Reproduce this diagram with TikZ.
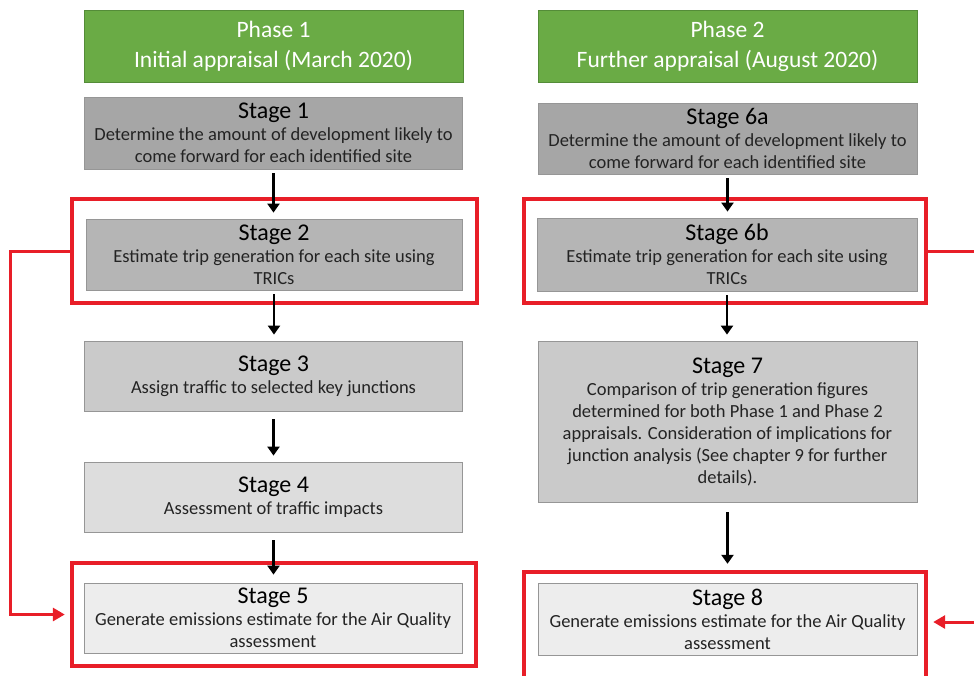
\documentclass[tikz,border=0pt]{standalone}
\usepackage{fontspec}
\setmainfont{Carlito}
\usepackage{tikz}
\usetikzlibrary{arrows.meta}
\definecolor{phgreen}{RGB}{106,171,69}
\definecolor{phframe}{RGB}{84,140,56}
\definecolor{stgA}{RGB}{166,166,166}
\definecolor{stgB}{RGB}{181,181,181}
\definecolor{stgC}{RGB}{202,202,202}
\definecolor{stgD}{RGB}{221,221,221}
\definecolor{stgE}{RGB}{237,237,237}
\definecolor{stgframe}{RGB}{150,150,150}
\definecolor{hlred}{RGB}{232,30,40}
\definecolor{txtdark}{RGB}{35,35,35}
\tikzset{
  phasebox/.style={rectangle, draw=phframe, fill=phgreen, text=white,
    minimum width=379pt, minimum height=72pt, align=center,
    font=\fontsize{23.5}{30}\selectfont, line width=0.8pt},
  stagebox/.style={rectangle, draw=stgframe, text=txtdark,
    minimum width=378pt, minimum height=71pt, align=center,
    font=\fontsize{18.5}{22}\selectfont, line width=0.8pt, inner sep=1pt},
  redframe/.style={rectangle, draw=hlred, line width=4.4pt, inner sep=0pt},
  arrow/.style={-{Triangle[length=9pt, width=12pt]}, line width=2.8pt,
    color=black, shorten <=4pt, shorten >=6pt},
  redarrow/.style={-{Triangle[length=12pt, width=13pt]}, line width=3pt,
    color=hlred, shorten >=5pt}
}
\newcommand{\stagehead}[1]{{\fontsize{24}{24}\selectfont\color{black}#1}}

\begin{document}
\begin{tikzpicture}[x=1pt, y=-1pt]
  \useasboundingbox (0,0) rectangle (974,675);
  \clip (0,0) rectangle (974,675);

  % Phase headers
  \node[phasebox] (ph1) at (273.5,46) {Phase 1\\Initial appraisal (March 2020)};
  \node[phasebox] (ph2) at (727.5,46) {Phase 2\\Further appraisal (August 2020)};

  % Red highlight frames
  \node[redframe, minimum width=405pt, minimum height=104pt] (r2) at (274.5,251) {};
  \node[redframe, minimum width=404pt, minimum height=103pt] (r5) at (274,614.5) {};
  \node[redframe, minimum width=402pt, minimum height=104pt] (r6b) at (725,251) {};
  \node[redframe, minimum width=402pt, minimum height=118pt] (r8) at (725,631) {};

  % Phase 1 stages
  \node[stagebox, fill=stgA, minimum height=72pt] (s1) at (273.5,133)
    {\stagehead{Stage 1}\\Determine the amount of development likely to\\come forward for each identified site};
  \node[stagebox, fill=stgB, minimum width=376pt] (s2) at (274,254.5)
    {\stagehead{Stage 2}\\Estimate trip generation for each site using\\TRICs};
  \node[stagebox, fill=stgC, minimum height=70pt] (s3) at (273.5,376)
    {\stagehead{Stage 3}\\Assign traffic to selected key junctions};
  \node[stagebox, fill=stgD, minimum height=70pt] (s4) at (273.5,497)
    {\stagehead{Stage 4}\\Assessment of traffic impacts};
  \node[stagebox, fill=stgE, minimum height=70pt] (s5) at (273,618)
    {\stagehead{Stage 5}\\Generate emissions estimate for the Air Quality\\assessment};

  % Phase 2 stages
  \node[stagebox, fill=stgA, minimum width=379pt] (s6a) at (727.5,138.5)
    {\stagehead{Stage 6a}\\Determine the amount of development likely to\\come forward for each identified site};
  \node[stagebox, fill=stgB, minimum width=380pt, minimum height=73pt] (s6b) at (727,254.5)
    {\stagehead{Stage 6b}\\Estimate trip generation for each site using\\TRICs};
  \node[stagebox, fill=stgC, minimum width=379pt, minimum height=161pt] (s7) at (727.5,421.5)
    {\stagehead{Stage 7}\\Comparison of trip generation figures\\determined for both Phase 1 and Phase 2\\appraisals. Consideration of implications for\\junction analysis (See chapter 9 for further\\details).};
  \node[stagebox, fill=stgE, minimum width=379pt, minimum height=72pt] (s8) at (727.5,619)
    {\stagehead{Stage 8}\\Generate emissions estimate for the Air Quality\\assessment};

  % Flow arrows
  \draw[arrow] (s1.south) -- (s1.south |- s2.north);
  \draw[arrow] (s2.south) -- (s2.south |- s3.north);
  \draw[arrow, shorten <=8pt] (s3.south) -- (s3.south |- s4.north);
  \draw[arrow, shorten <=8pt, shorten >=8pt] (s4.south) -- (s4.south |- s5.north);
  \draw[arrow] (s6a.south) -- (s6a.south |- s6b.north);
  \draw[arrow] (s6b.south) -- (s6b.south |- s7.north);
  \draw[arrow, shorten <=10pt] (s7.south) -- (s7.south |- r8.north);

  % Red links to the emissions stages
  \draw[redarrow] (r2.west) -- ++(-59,0) |- (r5.west);
  \draw[redarrow] (r6b.east) -- ++(60,0) |- ([yshift=9pt]r8.east);
\end{tikzpicture}
\end{document}
